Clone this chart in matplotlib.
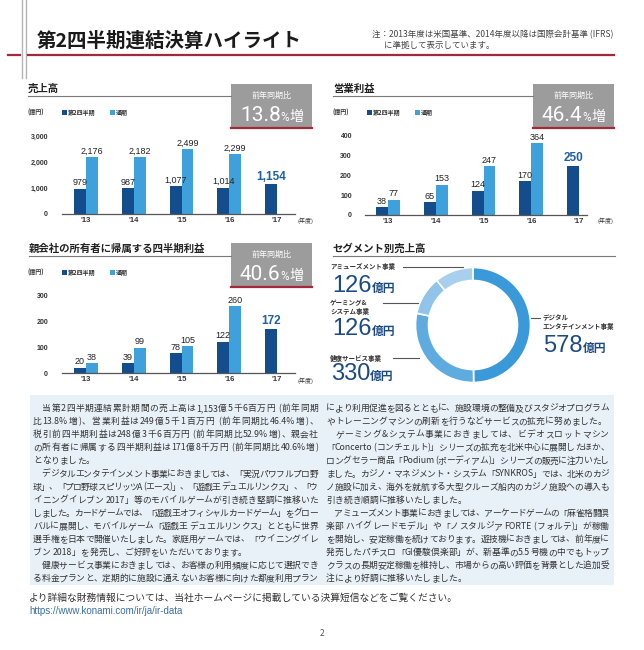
import re

import numpy as np
import matplotlib
matplotlib.use("Agg")
from matplotlib import pyplot as plt
from matplotlib.patches import Rectangle
from matplotlib.lines import Line2D

W, H = 644, 650

JP = ['Noto Sans CJK JP', 'DejaVu Sans']
NUM = ['Liberation Sans', 'Noto Sans CJK JP']
THIN = ['Roboto', 'Liberation Sans']

DARK = '#144d8b'
LIGHT = '#3ea1dc'
HILITE = '#1f5fa6'
NAVY_TXT = '#1c4a85'

plt.rcParams['font.family'] = JP

# --- data -------------------------------------------------------------
years = ["'13", "'14", "'15", "'16", "'17"]
sales_q2 = [979, 987, 1077, 1014, 1154]
sales_fy = [2176, 2182, 2499, 2299]
op_q2 = [38, 65, 124, 170, 250]
op_fy = [77, 153, 247, 364]
ni_q2 = [20, 39, 78, 122, 172]
ni_fy = [38, 99, 105, 260]
growth = ["13.8", "46.4", "40.6"]

seg_names = ["デジタル\nエンタテインメント事業", "健康サービス事業",
             "ゲーミング&\nシステム事業", "アミューズメント事業"]
seg_values = [578, 330, 126, 126]
seg_colors = ['#3a9ad9', '#5eabe0', '#90c4ea', '#a9cfee']

left_lines = [
    "　当第2四半期連結累計期間の売上高は1,153億5千6百万円 (前年同期",
    "比13.8%増)、営業利益は249億5千1百万円 (前年同期比46.4%増)、",
    "税引前四半期利益は248億3千6百万円 (前年同期比52.9%増)、親会社",
    "の所有者に帰属する四半期利益は171億8千万円 (前年同期比40.6%増)",
    "となりました。",
    "　デジタルエンタテインメント事業におきましては、「実況パワフルプロ野",
    "球」、「プロ野球スピリッツA (エース)」、「遊戯王 デュエルリンクス」、「ウ",
    "イニングイレブン 2017」等のモバイルゲームが引き続き堅調に推移いた",
    "しました。カードゲームでは、「遊戯王オフィシャルカードゲーム」をグロー",
    "バルに展開し、モバイルゲーム「遊戯王 デュエルリンクス」とともに世界",
    "選手権を日本で開催いたしました。家庭用ゲームでは、「ウイニングイレ",
    "ブン 2018」を発売し、ご好評をいただいております。",
    "　健康サービス事業におきましては、お客様の利用頻度に応じて選択でき",
    "る料金プランと、定期的に施設に通えないお客様に向けた都度利用プラン",
]
right_lines = [
    "により利用促進を図るとともに、施設環境の整備及びスタジオプログラム",
    "やトレーニングマシンの刷新を行うなどサービスの拡充に努めました。",
    "　ゲーミング&システム事業におきましては、ビデオスロットマシン",
    "「Concerto (コンチェルト)」シリーズの拡充を北米中心に展開したほか、",
    "ロングセラー商品「Podium (ポーディアム)」シリーズの販売に注力いたし",
    "ました。カジノ・マネジメント・システム「SYNKROS」では、北米のカジ",
    "ノ施設に加え、海外を就航する大型クルーズ船内のカジノ施設への導入も",
    "引き続き順調に推移いたしました。",
    "　アミューズメント事業におきましては、アーケードゲームの「麻雀格闘倶",
    "楽部 ハイグレードモデル」や「ノスタルジア FORTE (フォルテ)」が稼働",
    "を開始し、安定稼働を続けております。遊技機におきましては、前年度に",
    "発売したパチスロ「GI優駿倶楽部」が、新基準の5.5号機の中でもトップ",
    "クラスの長期安定稼働を維持し、市場からの高い評価を背景とした追加受",
    "注により好調に推移いたしました。",
]
# lines that end a paragraph (not stretched to full width)
left_ends = [4, 11]
right_ends = [1, 7, 13]

fig = plt.figure(figsize=(6.44, 6.5), dpi=100)
renderer = fig.canvas.get_renderer()


def fx(x):
    return x / W


def fy(y):
    return 1 - y / H


def text(x, y, s, **kw):
    return fig.text(fx(x), fy(y), s, **kw)


def line(x0, x1, y0, y1, **kw):
    fig.add_artist(Line2D([fx(x0), fx(x1)], [fy(y0), fy(y1)],
                          transform=fig.transFigure, **kw))


def rect(x, y, w, h, **kw):
    fig.add_artist(Rectangle((fx(x), fy(y + h)), w / W, h / H,
                             transform=fig.transFigure, **kw))


def run(x, y, parts, ha='left'):
    # several text pieces side by side on one baseline
    items = [text(x, y, s, va='baseline', **kw) for s, kw in parts]
    widths = [t.get_window_extent(renderer).width for t in items]
    pos = x - sum(widths) / 2 if ha == 'center' else x
    for t, w in zip(items, widths):
        t.set_x(fx(pos))
        pos += w


def justify(x0, x1, y, s, last, size=6.3):
    tokens = re.findall(r'[!-~]+| |.', s)
    items = [text(x0, y, t, va='baseline', fontsize=size, color='#333333')
             for t in tokens]
    widths = [t.get_window_extent(renderer).width for t in items]
    gap = 0 if last else (x1 - x0 - sum(widths)) / max(len(tokens) - 1, 1)
    pos = x0
    for t, w in zip(items, widths):
        t.set_x(fx(pos))
        pos += w + gap


def panel_title(x, y, x_end, title):
    text(x, y, title, fontsize=7.5, fontweight='bold', va='center', color='#222222')
    line(x, x_end, y + 7, y + 7, color='#7a7a7a', lw=0.8)


def growth_box(left, top, pct):
    rect(left, top, 81, 44, color='#9c9c9c', lw=0)
    line(left, left + 81, top + 44, top + 44, color='#a3283a', lw=1.6)
    text(left + 40.5, top + 11.5, '前年同期比', ha='center', va='center',
         fontsize=5.8, color='white')
    run(left + 40.5, top + 37,
        [(pct, dict(fontsize=15, family=THIN, color='white')),
         ('%', dict(fontsize=8.5, family=THIN, color='white')),
         ('増', dict(fontsize=10, color='white'))], ha='center')


def legend(x, y):
    kw = dict(fontsize=4.3, va='center', fontweight='bold', color='#333333')
    text(x, y, '(億円)', **kw)
    rect(x + 34, y - 2.5, 5, 5, color=DARK, lw=0)
    text(x + 40, y, '第2四半期', **kw)
    rect(x + 82, y - 2.5, 5, 5, color=LIGHT, lw=0)
    text(x + 88, y, '通期', **kw)


def bar_chart(left, right, top, bottom, c0, q2, full, ymax, step, pad):
    ax = fig.add_axes([fx(left), fy(bottom), (right - left) / W, (bottom - top) / H])
    sp = 47.75
    w = 0.25
    x = np.arange(len(q2))
    n = len(full)
    ax.bar(x - w / 2, q2, w, color=DARK)
    ax.bar(x[:n] + w / 2, full, w, color=LIGHT)
    ax.set_xlim((left - c0) / sp, (right - c0) / sp)
    ax.set_ylim(0, ymax)
    for s in ['top', 'right', 'left']:
        ax.spines[s].set_visible(False)
    ax.spines['bottom'].set_color('#555555')
    ax.spines['bottom'].set_linewidth(0.9)
    ax.patch.set_alpha(0)
    yt = np.arange(0, ymax + 1, step)
    ax.set_yticks(yt, [f'{v:,}' for v in yt], fontsize=5, fontweight='bold',
                  family=NUM, color='#333333')
    ax.set_xticks(x, years, fontsize=5.5, fontweight='bold', family=NUM,
                  color='#333333')
    ax.tick_params(length=0)
    ax.tick_params(axis='y', pad=pad)
    ax.tick_params(axis='x', pad=2)
    for i, v in enumerate(q2):
        last = i == len(q2) - 1
        ax.annotate(f'{v:,}', (i - w / 2, v), xytext=(0, 1), textcoords='offset points',
                    ha='center', va='bottom', family=NUM,
                    fontsize=8.5 if last else 6.5,
                    fontweight='bold' if last else 'normal',
                    color=HILITE if last else '#222222', annotation_clip=False)
    for i, v in enumerate(full):
        ax.annotate(f'{v:,}', (i + w / 2, v), xytext=(0, 1), textcoords='offset points',
                    ha='center', va='bottom', family=NUM, fontsize=6.5,
                    color='#222222', annotation_clip=False)
    return ax


# --- page header --------------------------------------------------------
line(22, 22, 0, 78, color='#b5b5b5', lw=1)
line(25.5, 25.5, 0, 78, color='#b5b5b5', lw=1)
line(8, 19.5, 55, 55, color='#a3283a', lw=1.6)
line(28, 614, 55, 55, color='#a3283a', lw=1.6)
text(37, 41, '第2四半期連結決算ハイライト', fontsize=14, fontweight='bold',
     va='center', color='#1a1a1a')
text(372, 35, '注：2013年度は米国基準、2014年度以降は国際会計基準 (IFRS)',
     fontsize=6.1, va='center', color='#444444')
text(384, 45, 'に準拠して表示しています。', fontsize=6.1, va='center', color='#444444')

# --- sales ----------------------------------------------------------------
panel_title(28, 89, 231, '売上高')
growth_box(231, 84, growth[0])
legend(28, 112)
bar_chart(62, 295, 136, 214, 86, sales_q2, sales_fy, 3000, 1000, 10)
text(297, 221, '(年度)', fontsize=4.3, va='center', color='#333333')

# --- operating profit -----------------------------------------------------
panel_title(333, 89, 533, '営業利益')
growth_box(533, 84, growth[1])
legend(333, 112)
bar_chart(365, 587, 136, 215, 388, op_q2, op_fy, 400, 100, 9.4)
text(598, 221, '(年度)', fontsize=4.3, va='center', color='#333333')

# --- net income ------------------------------------------------------------
panel_title(29, 249, 231, '親会社の所有者に帰属する四半期利益')
growth_box(231, 243, growth[2])
legend(28, 272)
bar_chart(62, 295, 296, 373, 86, ni_q2, ni_fy, 300, 100, 10)
text(297, 381, '(年度)', fontsize=4.3, va='center', color='#333333')

# --- segment donut ---------------------------------------------------------
panel_title(333, 249, 615, 'セグメント別売上高')
pax = fig.add_axes([fx(473 - 60), fy(325 + 60), 120 / W, 120 / H])
pax.pie(seg_values, radius=57.5 / 60, startangle=90, counterclock=False,
        colors=seg_colors,
        wedgeprops=dict(width=13 / 60, edgecolor='white', linewidth=1.2))
pax.set_xlim(-1, 1)
pax.set_ylim(-1, 1)
pax.set_aspect('equal')

name_kw = dict(fontsize=4.7, fontweight='bold', va='center', color='#333333',
               linespacing=1.25)
big_kw = dict(fontsize=17, family=NUM, color=NAVY_TXT)
unit_kw = dict(fontsize=8.5, fontweight='bold', color=NAVY_TXT)
lead = dict(color='#555555', lw=0.8)

# amusement
text(330, 267, seg_names[3], **name_kw)
line(403, 463, 267, 267, **lead)
run(332, 292, [(f'{seg_values[3]}', big_kw), ('億円', unit_kw)])
# gaming & systems
text(330, 307, seg_names[2], **name_kw)
line(383, 418, 303, 303, **lead)
run(332, 335, [(f'{seg_values[2]}', big_kw), ('億円', unit_kw)])
# health services
text(330, 358, seg_names[1], **name_kw)
line(393, 419, 358, 358, **lead)
run(331, 380, [(f'{seg_values[1]}', big_kw), ('億円', unit_kw)])
# digital entertainment
line(531, 540, 318, 318, **lead)
text(543, 322, seg_names[0], **name_kw)
run(543, 352, [(f'{seg_values[0]}', big_kw), ('億円', unit_kw)])

# --- body text ---------------------------------------------------------------
rect(30, 395, 584, 190, color='#e8f0f8', lw=0)
for i, s in enumerate(left_lines):
    justify(33, 318, 411 + 13.1 * i, s, i in left_ends)
for i, s in enumerate(right_lines):
    justify(326, 609, 411 + 13.1 * i, s, i in right_ends)

# --- footer ------------------------------------------------------------------
text(29, 598, 'より詳細な財務情報については、当社ホームページに掲載している決算短信などをご覧ください。',
     fontsize=7, va='center', color='#333333')
text(29, 611, 'https://www.konami.com/ir/ja/ir-data', fontsize=7, va='center',
     family=NUM, color='#3a6ea5')
text(322, 634, '2', fontsize=6, ha='center', va='center', color='#555555')

fig.savefig('out.png', dpi=100)
